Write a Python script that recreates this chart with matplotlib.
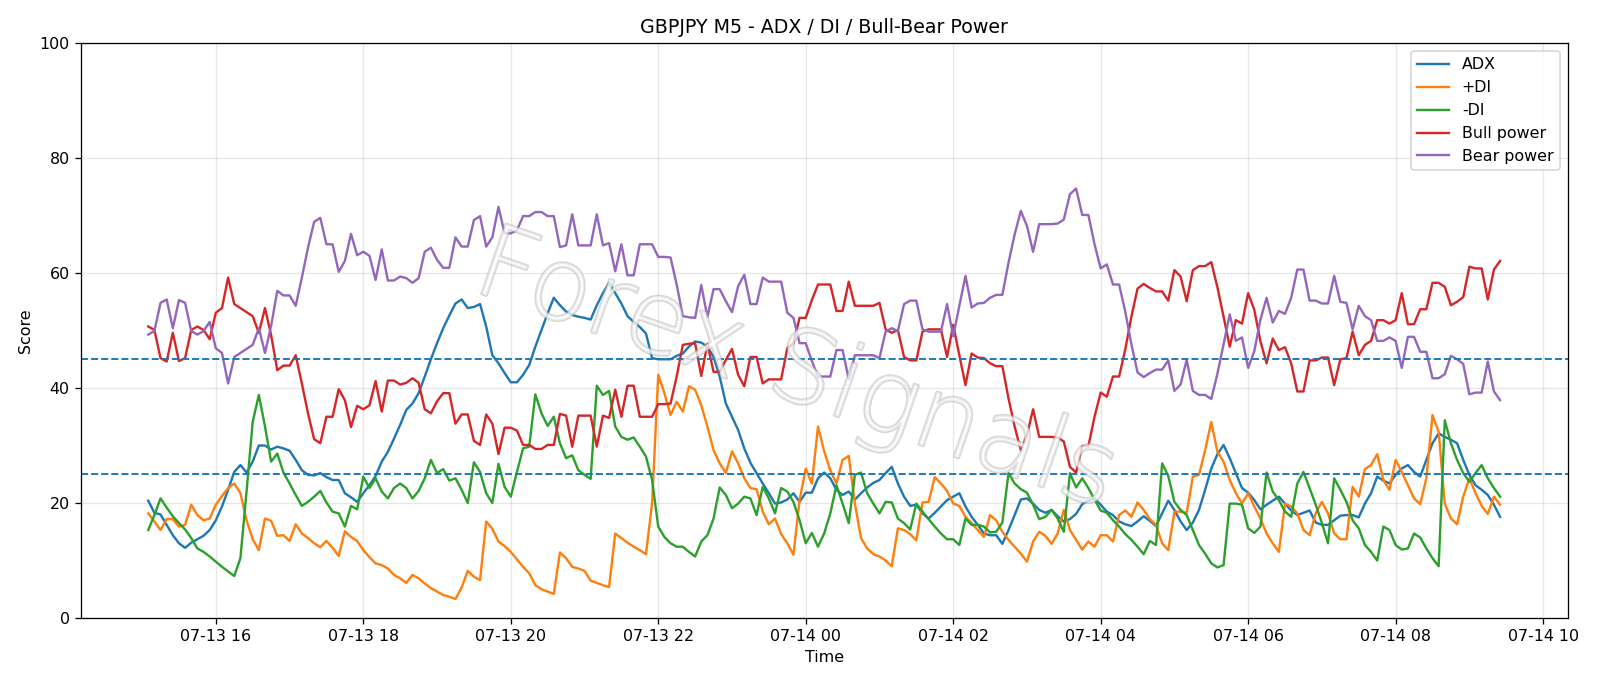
import matplotlib
matplotlib.use("Agg")
import matplotlib.pyplot as plt
import matplotlib.dates as mdates
import matplotlib.patheffects as pe
import pandas as pd

# GBPJPY M5 bars, 15:05 -> 09:25 next day
times = pd.date_range("2024-07-13 15:05", periods=221, freq="5min")

adx = [20.4, 18.3, 18.0, 16.2, 14.4, 13.0, 12.2, 13.1, 13.7, 14.3, 15.3, 17.0, 19.4, 22.3, 25.4, 26.6, 25.3, 27.2, 30.0, 30.0,
       29.3, 29.8, 29.5, 29.1, 27.5, 25.7, 24.9, 24.8, 25.2, 24.5, 24.0, 24.0, 21.7, 21.0, 20.2, 21.7, 23.1, 24.7,
       27.2, 28.9, 31.2, 33.6, 36.2, 37.3, 39.1, 42.0, 45.0, 47.8, 50.4, 52.6, 54.7, 55.4, 53.9, 54.1, 54.6, 50.7, 45.7, 44.3,
       42.6, 41.0, 41.0, 42.3, 44.0, 47.2, 50.1, 53.0, 55.7, 54.4, 53.3, 52.7, 52.4, 52.2, 51.9, 54.4, 56.5, 58.3,
       56.5, 54.7, 52.5, 51.5, 50.6, 49.5, 45.2, 45.0, 45.0, 45.0, 45.6, 46.0, 47.2, 48.1, 47.9, 47.2, 45.4, 42.0, 37.3, 35.0,
       32.7, 29.5, 27.0, 25.2, 23.4, 21.7, 19.9, 20.1, 20.6, 21.7, 20.2, 21.8, 21.8, 24.3, 25.3, 24.3, 22.3,
       21.4, 22.0, 20.6, 21.7, 22.7, 23.5, 24.0, 25.2, 26.3, 23.4, 21.1, 19.5, 19.7, 18.2, 17.3, 18.3, 19.4, 20.5, 21.1, 21.7,
       19.4, 17.6, 16.2, 14.7, 14.4, 14.4, 12.9, 15.3, 17.9, 20.6, 20.8, 19.9, 18.8, 18.3, 18.8, 17.7, 16.8, 17.2,
       18.1, 19.8, 20.4, 20.8, 19.7, 18.5, 17.9, 16.8, 16.3, 16.0, 16.8, 17.7, 16.9, 16.0, 18.2, 20.4, 18.8, 16.8, 15.3, 16.6,
       18.8, 22.3, 26.0, 28.5, 30.1, 27.8, 25.2, 22.6, 21.8, 20.5, 18.9, 19.7, 20.4, 21.1, 19.9, 18.7, 17.9,
       18.3, 18.7, 16.6, 16.2, 16.2, 17.0, 17.8, 17.9, 17.9, 17.5, 19.9, 21.7, 24.6, 23.9, 23.4, 24.9, 26.0, 26.6, 25.4, 24.6,
       27.5, 30.4, 32.1, 31.5, 31.0, 30.4, 27.5, 24.9, 23.1, 22.3, 21.4, 19.7, 17.6]

plus_di = [18.2, 16.8, 15.3, 17.2, 17.2, 15.9, 16.2, 19.7, 17.9, 17.0, 17.3, 19.7, 21.2, 22.6, 23.4, 21.7, 17.0, 13.7, 11.8, 17.3,
           16.9, 14.3, 14.4, 13.4, 16.3, 14.7, 13.9, 13.0, 12.3, 13.4, 12.2, 10.8, 15.1, 14.1, 13.4, 11.8, 10.6, 9.5,
           9.2, 8.6, 7.5, 6.9, 6.1, 7.5, 6.9, 6.0, 5.2, 4.6, 4.0, 3.7, 3.3, 5.3, 8.2, 7.2, 6.6, 16.8, 15.5, 13.3,
           12.5, 11.5, 10.2, 8.9, 7.8, 5.7, 5.0, 4.6, 4.2, 11.4, 10.4, 8.9, 8.6, 8.2, 6.5, 6.1, 5.7, 5.4,
           14.7, 13.9, 13.1, 12.4, 11.8, 11.1, 20.0, 42.3, 39.1, 35.3, 37.6, 35.9, 40.3, 39.7, 37.0, 33.3, 29.2, 26.9, 25.2, 29.0,
           26.9, 24.3, 22.6, 22.4, 18.5, 16.3, 17.3, 14.6, 13.0, 11.0, 20.5, 26.0, 23.4, 33.3, 29.0, 25.7, 23.4,
           27.5, 28.2, 19.9, 13.9, 12.1, 11.1, 10.7, 10.0, 9.0, 15.6, 15.3, 14.6, 13.5, 20.1, 20.2, 24.5, 23.4, 22.1, 19.9, 19.5,
           17.6, 16.5, 15.3, 14.1, 17.9, 17.0, 15.0, 13.6, 12.4, 11.2, 9.8, 13.3, 15.0, 14.3, 12.9, 14.7, 18.8, 15.3,
           13.6, 11.9, 13.3, 12.4, 14.4, 14.4, 13.3, 17.9, 18.7, 17.6, 20.1, 18.8, 17.2, 16.2, 13.0, 11.8, 18.5, 18.5, 18.3, 24.6,
           24.9, 29.2, 34.1, 28.9, 27.2, 24.0, 21.7, 19.9, 21.7, 19.4, 17.3, 14.7, 13.0, 11.5, 19.9, 19.4, 18.2,
           15.3, 14.4, 18.2, 20.2, 18.2, 14.7, 13.7, 13.7, 22.8, 21.1, 25.9, 26.6, 28.5, 24.0, 22.3, 27.5, 25.4, 23.1, 20.8, 19.8,
           24.3, 35.3, 32.4, 19.9, 17.3, 16.3, 21.1, 24.3, 21.7, 19.5, 18.1, 21.1, 19.7]

minus_di = [15.3, 17.9, 20.8, 19.2, 17.7, 16.5, 15.4, 13.9, 12.1, 11.5, 10.7, 9.8, 8.9, 8.1, 7.3, 10.4, 22.0, 34.1, 38.8, 33.3,
            27.2, 28.6, 25.3, 23.4, 21.4, 19.5, 20.2, 21.1, 22.1, 20.1, 18.5, 18.2, 15.9, 19.5, 18.9, 24.6, 22.6, 24.3,
            22.0, 20.8, 22.6, 23.4, 22.6, 20.8, 22.1, 24.3, 27.5, 25.2, 25.9, 23.9, 24.3, 22.3, 20.0, 27.1, 25.4, 21.7, 20.0, 26.8,
            22.8, 21.1, 25.4, 29.5, 29.8, 38.9, 35.6, 33.4, 35.0, 30.4, 27.8, 28.3, 25.7, 24.9, 24.2, 40.4, 38.8, 39.5,
            33.3, 31.5, 31.0, 31.4, 29.8, 28.1, 24.0, 15.9, 14.1, 13.0, 12.4, 12.4, 11.5, 10.7, 13.3, 14.4, 17.3, 22.7, 21.4, 19.1,
            19.9, 21.1, 20.8, 17.9, 22.8, 20.8, 18.2, 22.6, 22.0, 20.2, 17.0, 13.0, 14.8, 12.4, 14.7, 18.2, 23.1,
            19.9, 16.5, 24.9, 25.3, 21.7, 19.9, 18.2, 20.2, 20.1, 17.3, 16.5, 15.4, 19.9, 18.5, 17.2, 15.9, 14.7, 13.7, 13.7, 12.7,
            17.3, 16.2, 16.2, 15.9, 14.9, 15.0, 16.6, 25.2, 23.4, 22.4, 21.8, 19.7, 17.2, 17.6, 18.8, 17.3, 15.0, 25.2,
            22.7, 24.3, 22.6, 20.6, 18.7, 18.3, 17.0, 15.9, 14.6, 13.6, 12.4, 11.1, 13.4, 12.7, 26.9, 24.7, 20.2, 18.8, 17.9, 15.3,
            12.7, 11.2, 9.5, 8.8, 9.2, 19.9, 19.9, 19.7, 15.6, 14.8, 15.9, 25.3, 22.0, 20.5, 18.5, 17.6, 23.4,
            25.4, 22.6, 19.7, 16.5, 13.0, 24.3, 22.3, 20.2, 17.0, 15.6, 12.7, 11.5, 10.0, 15.9, 15.3, 12.7, 11.9, 12.1, 14.7, 14.0,
            12.1, 10.4, 9.0, 34.4, 30.4, 27.5, 25.2, 23.7, 25.2, 26.6, 24.3, 22.6, 21.1]

bull_power = [50.7, 50.1, 45.2, 44.6, 49.6, 44.7, 45.2, 50.1, 50.7, 50.1, 48.5, 53.1, 53.9, 59.2, 54.6, 53.9, 53.2, 52.5, 49.6, 53.9,
              49.2, 43.1, 43.9, 43.9, 45.7, 40.8, 35.6, 31.1, 30.4, 35.0, 35.0, 39.8, 37.9, 33.2, 36.9, 36.3, 37.0, 41.2,
              35.9, 41.3, 41.3, 40.6, 40.9, 41.7, 40.9, 36.3, 35.6, 37.7, 39.1, 39.1, 33.8, 35.4, 35.4, 30.8, 30.1, 35.4, 33.8, 28.5,
              33.1, 33.1, 32.6, 30.1, 30.1, 29.4, 29.4, 30.1, 30.1, 35.5, 35.2, 29.8, 35.2, 35.2, 35.2, 29.8, 35.2, 34.8,
              39.7, 35.0, 40.4, 40.4, 35.0, 35.0, 35.0, 37.2, 37.2, 37.3, 42.0, 47.5, 47.7, 47.8, 42.1, 47.7, 42.8, 42.8, 44.9, 46.8,
              42.3, 40.3, 45.4, 45.4, 40.8, 41.5, 41.5, 41.5, 46.9, 47.8, 52.2, 52.2, 55.3, 58.0, 58.0, 58.0, 53.4,
              53.4, 58.5, 54.3, 54.3, 54.3, 54.3, 54.8, 50.2, 49.6, 50.1, 45.4, 44.8, 44.8, 49.8, 50.2, 50.2, 50.2, 45.4, 51.0, 45.7,
              40.5, 46.0, 45.3, 45.2, 44.3, 43.8, 43.8, 38.2, 33.3, 29.2, 31.8, 36.3, 31.5, 31.5, 31.5, 31.4, 30.7, 26.3,
              25.3, 29.9, 29.9, 35.0, 39.2, 38.5, 42.0, 42.0, 46.7, 52.4, 57.3, 58.1, 57.4, 56.8, 56.8, 55.2, 60.5, 59.4, 55.1, 60.5,
              61.2, 61.2, 61.9, 57.5, 52.4, 47.2, 51.8, 51.2, 56.5, 53.6, 48.1, 44.3, 48.6, 46.6, 47.1, 44.3, 39.4,
              39.4, 44.8, 44.8, 45.3, 45.3, 40.5, 45.0, 45.2, 49.8, 45.7, 47.5, 48.2, 51.8, 51.8, 51.2, 51.8, 56.5, 51.1, 51.1, 53.7,
              53.7, 58.3, 58.3, 57.6, 54.4, 55.0, 55.8, 61.1, 60.8, 60.8, 55.4, 60.6, 62.1]

bear_power = [49.3, 49.9, 54.8, 55.4, 50.4, 55.3, 54.8, 49.9, 49.3, 49.9, 51.5, 46.9, 46.1, 40.8, 45.4, 46.1, 46.8, 47.5, 50.4, 46.1,
              50.8, 56.9, 56.1, 56.1, 54.3, 59.2, 64.4, 68.9, 69.6, 65.0, 65.0, 60.2, 62.1, 66.8, 63.1, 63.7, 63.0, 58.8,
              64.1, 58.7, 58.7, 59.4, 59.1, 58.3, 59.1, 63.7, 64.4, 62.3, 60.9, 60.9, 66.2, 64.6, 64.6, 69.2, 69.9, 64.6, 66.2, 71.5,
              66.9, 66.9, 67.4, 69.9, 69.9, 70.6, 70.6, 69.9, 69.9, 64.5, 64.8, 70.2, 64.8, 64.8, 64.8, 70.2, 64.8, 65.2,
              60.3, 65.0, 59.6, 59.6, 65.0, 65.0, 65.0, 62.8, 62.8, 62.7, 58.0, 52.5, 52.3, 52.2, 57.9, 52.3, 57.2, 57.2, 55.1, 53.2,
              57.7, 59.7, 54.6, 54.6, 59.2, 58.5, 58.5, 58.5, 53.1, 52.2, 47.8, 47.8, 44.7, 42.0, 42.0, 42.0, 46.6,
              46.6, 41.5, 45.7, 45.7, 45.7, 45.7, 45.2, 49.8, 50.4, 49.9, 54.6, 55.2, 55.2, 50.2, 49.8, 49.8, 49.8, 54.6, 49.0, 54.3,
              59.5, 54.0, 54.7, 54.8, 55.7, 56.2, 56.2, 61.8, 66.7, 70.8, 68.2, 63.7, 68.5, 68.5, 68.5, 68.6, 69.3, 73.7,
              74.7, 70.1, 70.1, 65.0, 60.8, 61.5, 58.0, 58.0, 53.3, 47.6, 42.7, 41.9, 42.6, 43.2, 43.2, 44.8, 39.5, 40.6, 44.9, 39.5,
              38.8, 38.8, 38.1, 42.5, 47.6, 52.8, 48.2, 48.8, 43.5, 46.4, 51.9, 55.7, 51.4, 53.4, 52.9, 55.7, 60.6,
              60.6, 55.2, 55.2, 54.7, 54.7, 59.5, 55.0, 54.8, 50.2, 54.3, 52.5, 51.8, 48.2, 48.2, 48.8, 48.2, 43.5, 48.9, 48.9, 46.3,
              46.3, 41.7, 41.7, 42.4, 45.6, 45.0, 44.2, 38.9, 39.2, 39.2, 44.6, 39.4, 37.9]

fig = plt.figure(figsize=(14, 6.0025))
ax = fig.add_axes([0.0504, 0.0991, 0.9294, 0.8382])

ax.plot(times, adx, label="ADX")
ax.plot(times, plus_di, label="+DI")
ax.plot(times, minus_di, label="-DI")
ax.plot(times, bull_power, label="Bull power")
ax.plot(times, bear_power, label="Bear power")

# trend threshold lines
ax.axhline(45, linestyle="--", color="tab:blue", linewidth=1.2)
ax.axhline(25, linestyle="--", color="tab:blue", linewidth=1.2)

ax.set_ylim(0, 100)
ax.xaxis.set_major_locator(mdates.HourLocator(byhour=range(0, 24, 2)))
ax.xaxis.set_major_formatter(mdates.DateFormatter("%m-%d %H"))
ax.grid(True, alpha=0.3)
ax.set_title("GBPJPY M5 - ADX / DI / Bull-Bear Power")
ax.set_xlabel("Time")
ax.set_ylabel("Score")
ax.legend(loc="upper right")

# watermark: faint hollow letters over the lines
ax.text(0.481, 0.427, "Forex Signals", transform=ax.transAxes, fontsize=64,
        color="white", alpha=0.5, rotation=-19, ha="center", va="center",
        fontweight="light",
        path_effects=[pe.withStroke(linewidth=1.8, foreground="#b0b0b0")], zorder=5)

fig.savefig("out.png", dpi=1600 / 14)
